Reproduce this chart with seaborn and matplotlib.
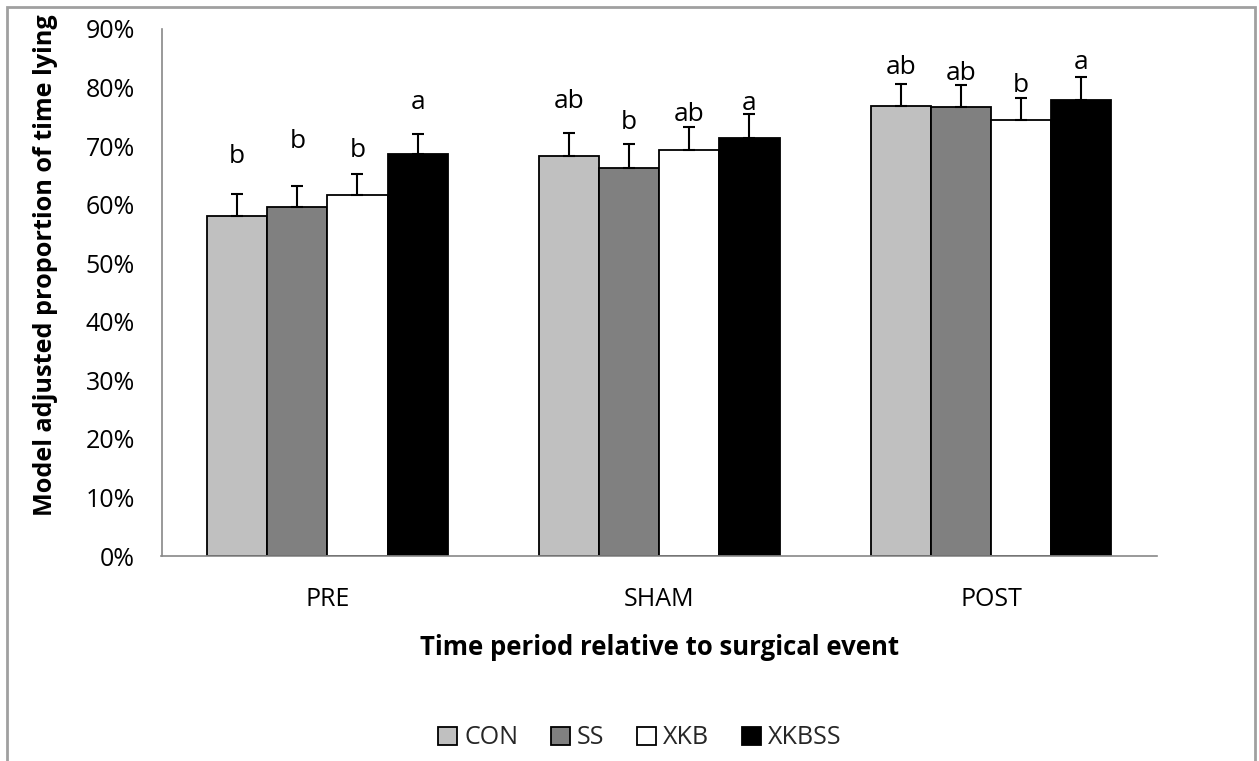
import matplotlib
matplotlib.use("Agg")
import matplotlib.pyplot as plt
import seaborn as sns
import pandas as pd
import numpy as np
from matplotlib.patches import Rectangle
from matplotlib.ticker import FuncFormatter, FixedLocator
from matplotlib.container import BarContainer

# ---- data ----
periods = ["PRE", "SHAM", "POST"]
treatments = ["CON", "SS", "XKB", "XKBSS"]
con_vals = [58.1, 68.3, 76.9]
ss_vals = [59.6, 66.3, 76.6]
xkb_vals = [61.7, 69.4, 74.5]
xkbss_vals = [68.6, 71.4, 77.9]
con_err = [3.7, 4.0, 3.7]
ss_err = [3.6, 4.0, 3.8]
xkb_err = [3.5, 3.8, 3.8]
xkbss_err = [3.5, 4.0, 3.9]
con_letters = ["b", "ab", "ab"]
ss_letters = ["b", "b", "ab"]
xkb_letters = ["b", "ab", "b"]
xkbss_letters = ["a", "a", "a"]
# letter baseline heights (%)
con_letter_y = [67.2, 76.5, 82.3]
ss_letter_y = [69.7, 73.0, 81.3]
xkb_letter_y = [68.2, 74.3, 79.3]
xkbss_letter_y = [76.4, 76.2, 83.2]
colors = ["#C0C0C0", "#808080", "#FFFFFF", "#000000"]

vals = [con_vals, ss_vals, xkb_vals, xkbss_vals]
errs = [con_err, ss_err, xkb_err, xkbss_err]
letters = [con_letters, ss_letters, xkb_letters, xkbss_letters]
letter_y = [con_letter_y, ss_letter_y, xkb_letter_y, xkbss_letter_y]

rows = []
for t, v in zip(treatments, vals):
    for p, val in zip(periods, v):
        rows.append({"period": p, "treatment": t, "value": val})
df = pd.DataFrame(rows)

sns.set_theme(style="white")
plt.rcParams["font.family"] = ["Open Sans", "DejaVu Sans"]

fig = plt.figure(figsize=(12.59, 7.61), dpi=100)
ax = fig.add_axes([161.5 / 1259, 1 - 556 / 761, (1157 - 161.5) / 1259, (556 - 29) / 761])

sns.barplot(data=df, x="period", y="value", hue="treatment", order=periods,
            hue_order=treatments, palette=colors, width=0.725, saturation=1,
            edgecolor="black", linewidth=1.3, errorbar=None, ax=ax, legend=True)

bar_containers = [c for c in ax.containers if isinstance(c, BarContainer)]
# error bars and letters
for i, cont in enumerate(bar_containers):
    for j, bar in enumerate(cont.patches):
        xc = bar.get_x() + bar.get_width() / 2
        ax.errorbar(xc, vals[i][j], yerr=[[0], [errs[i][j]]], fmt="none",
                    ecolor="black", elinewidth=1.5, capsize=4.5, capthick=1.5, zorder=5)
        ax.text(xc, letter_y[i][j], letters[i][j], ha="center", va="baseline",
                fontsize=19, color="black")

ax.set_ylim(0, 90)
ax.set_xlim(-0.5, 2.5)
ax.yaxis.set_major_locator(FixedLocator(np.arange(0, 91, 10)))
ax.yaxis.set_major_formatter(FuncFormatter(lambda v, p: f"{int(round(v))}%"))
ax.xaxis.set_minor_locator(FixedLocator([-0.5, 0.5, 1.5, 2.5]))
ax.tick_params(axis="x", which="major", length=0, labelsize=18, pad=22, colors="black")
ax.tick_params(axis="x", which="minor", length=7, width=1.2, color="#888888", direction="out")
ax.tick_params(axis="y", which="major", length=7, width=1.2, color="#888888",
               direction="out", labelsize=18, pad=12, labelcolor="black")
for s in ["top", "right"]:
    ax.spines[s].set_visible(False)
for s in ["left", "bottom"]:
    ax.spines[s].set_color("#888888")
    ax.spines[s].set_linewidth(1.2)

ax.set_xlabel("Time period relative to surgical event", fontsize=18.5, fontweight="bold",
              labelpad=16, color="black")
ax.set_ylabel("Model adjusted proportion of time lying", fontsize=18.2, fontweight="bold",
              color="black")
ax.yaxis.set_label_coords(-0.104, 0.552)

handles, labels = ax.get_legend_handles_labels()
ax.legend_.remove()
fig.legend(handles, labels, loc="center", bbox_to_anchor=(640 / 1259, 1 - 738 / 761),
           ncol=4, frameon=False, fontsize=18, handlelength=0.75, handleheight=0.75,
           handletextpad=0.3, columnspacing=1.3)

# outer frame
fig.patches.append(Rectangle((7 / 1259, -0.05), (1255 - 7) / 1259, 1.05 - 7 / 761,
                             transform=fig.transFigure, fill=False,
                             edgecolor="#A0A0A0", linewidth=2))

fig.savefig("out.png", dpi=100)
